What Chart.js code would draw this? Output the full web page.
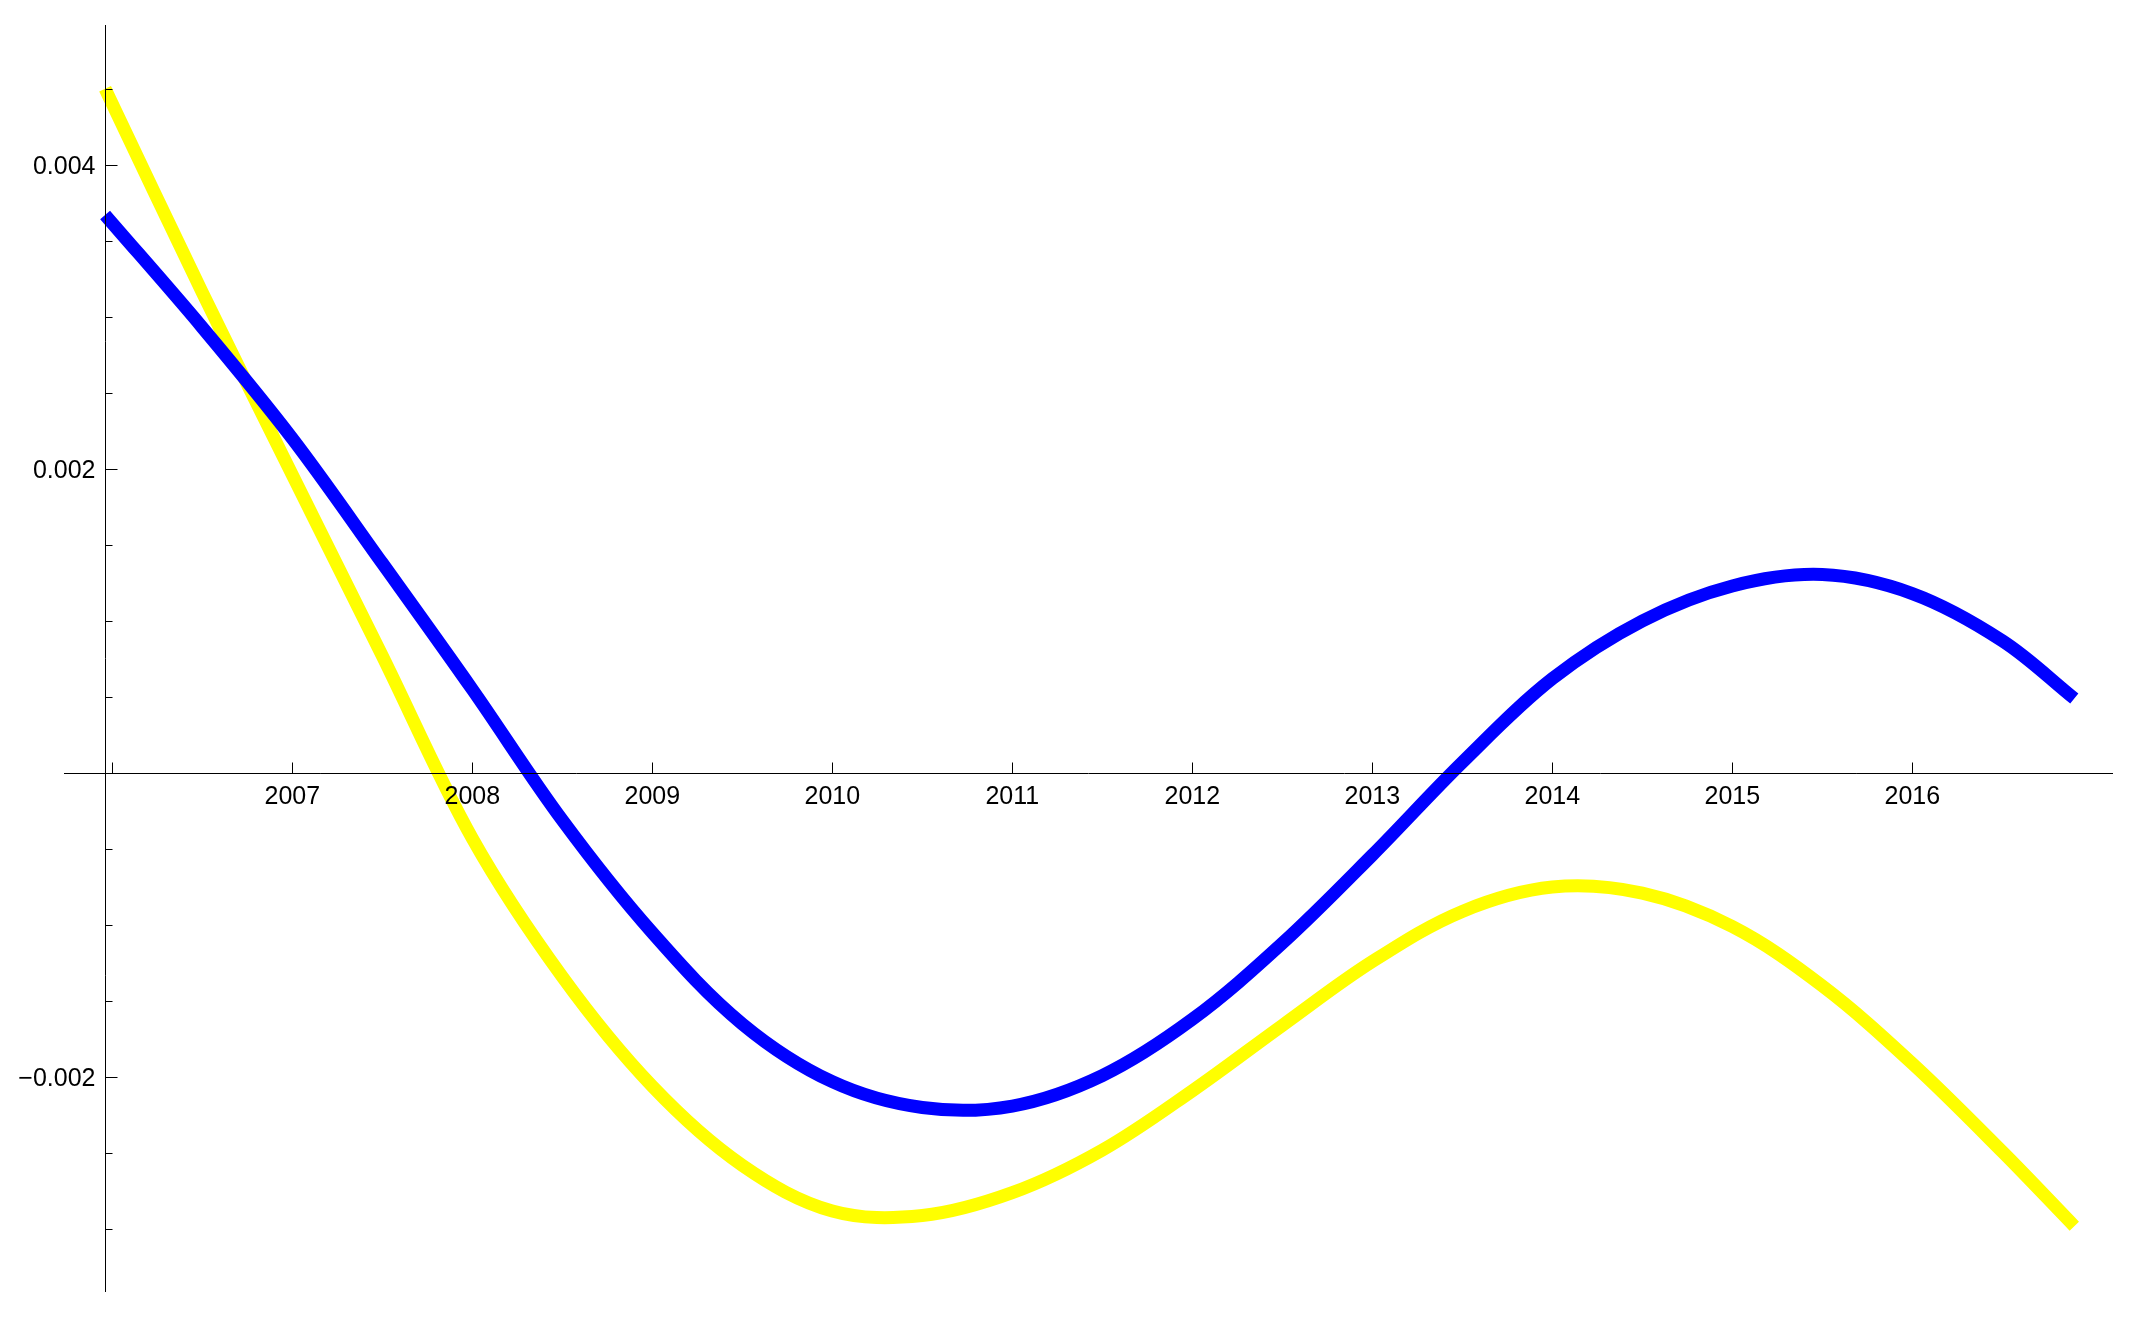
<!DOCTYPE html>
<html>
<head>
<meta charset="utf-8">
<script src="https://cdn.jsdelivr.net/npm/chart.js@4/dist/chart.umd.min.js"></script>
<style>
  html, body { margin: 0; padding: 0; background: #fff; }
  #wrap { width: 2131px; height: 1317px; position: relative; }
</style>
</head>
<body>
<div id="wrap"><canvas id="plot"></canvas></div>
<script>
// every half year (values in units of 0.001)
const years = [2005.96, 2006.5, 2007, 2007.5, 2008, 2008.5, 2009, 2009.5, 2010, 2010.5, 2011,
  2011.5, 2012, 2012.5, 2013, 2013.5, 2014, 2014.5, 2015, 2015.5, 2016, 2016.5, 2016.9]
const blueValues = [3.67, 2.93, 2.20, 1.38, 0.55, -0.31, -1.05, -1.65, -2.03, -2.20, -2.19,
  -1.99, -1.62, -1.12, -0.54, 0.07, 0.62, 1.00, 1.23, 1.305, 1.18, 0.87, 0.49]
const yellowValues = [4.50, 3.16, 1.96, 0.77, -0.43, -1.34, -2.06, -2.58, -2.88, -2.91, -2.76,
  -2.48, -2.09, -1.66, -1.24, -0.91, -0.75, -0.79, -1.01, -1.40, -1.91, -2.49, -2.98]

const xTicks = [2006, 2007, 2008, 2009, 2010, 2011, 2012, 2013, 2014, 2015, 2016]
const yMajor = [0.004, 0.002, -0.002]
const yMinor = [0.0045, 0.0035, 0.003, 0.0025, 0.0015, 0.001, 0.0005, -0.0005, -0.001, -0.0015, -0.0025, -0.003]
const yLabels = ['0.004', '0.002', '\u22120.002']

const axisX = 2005.96   // where the vertical axis sits

function pts(xs, ys) {
  return xs.map((x, i) => ({ x: x, y: ys[i] / 1000 }))
}

// Mathematica style axes: crossing lines, ticks pointing inward, labels outside
const mathAxes = {
  id: 'mathAxes',
  afterDatasetsDraw(chart) {
    const ctx = chart.ctx
    const xs = chart.scales.x
    const ys = chart.scales.y
    const ax = Math.round(xs.getPixelForValue(axisX)) + 0.5
    const ay = Math.round(ys.getPixelForValue(0)) + 0.5

    ctx.save()
    ctx.strokeStyle = '#000'
    ctx.lineWidth = 1
    ctx.beginPath()
    ctx.moveTo(xs.left, ay)
    ctx.lineTo(xs.right, ay)
    ctx.moveTo(ax, ys.top)
    ctx.lineTo(ax, ys.bottom)

    xTicks.forEach(t => {
      const px = Math.round(xs.getPixelForValue(t)) + 0.5
      ctx.moveTo(px, ay)
      ctx.lineTo(px, ay - 11)
    })
    yMajor.forEach(t => {
      const py = Math.round(ys.getPixelForValue(t)) + 0.5
      ctx.moveTo(ax, py)
      ctx.lineTo(ax + 12, py)
    })
    yMinor.forEach(t => {
      const py = Math.round(ys.getPixelForValue(t)) + 0.5
      ctx.moveTo(ax, py)
      ctx.lineTo(ax + 7, py)
    })
    ctx.stroke()

    ctx.fillStyle = '#000'
    ctx.font = '25px "Liberation Sans", Arial, sans-serif'
    ctx.textAlign = 'center'
    ctx.textBaseline = 'alphabetic'
    xTicks.forEach(t => {
      if (t === 2006) return
      ctx.fillText(String(t), xs.getPixelForValue(t), ay + 30)
    })
    ctx.textAlign = 'right'
    yMajor.forEach((t, i) => {
      ctx.fillText(yLabels[i], ax - 10, ys.getPixelForValue(t) + 9)
    })
    ctx.restore()
  }
}

const data = {
  datasets: [{
    label: 'blue',
    data: pts(years, blueValues),
    borderColor: '#0000ff',
    borderWidth: 13,
    tension: 0.35,
    pointRadius: 0,
    fill: false,
  }, {
    label: 'yellow',
    data: pts(years, yellowValues),
    borderColor: '#ffff00',
    borderWidth: 13,
    tension: 0.35,
    pointRadius: 0,
    fill: false,
  }]
}

const config = {
  type: 'line',
  data: data,
  options: {
    animation: false,
    responsive: true,
    maintainAspectRatio: false,
    devicePixelRatio: 1,
    layout: { padding: { left: 64, right: 18, top: 25, bottom: 25 } },
    plugins: { legend: { display: false }, tooltip: { enabled: false } },
    scales: {
      x: { type: 'linear', min: 2005.7317, max: 2017.115, display: false },
      y: { type: 'linear', min: -0.003413, max: 0.004919, display: false }
    }
  },
  plugins: [mathAxes]
}

const myChart = new Chart(document.getElementById('plot'), config)
</script>
</body>
</html>
